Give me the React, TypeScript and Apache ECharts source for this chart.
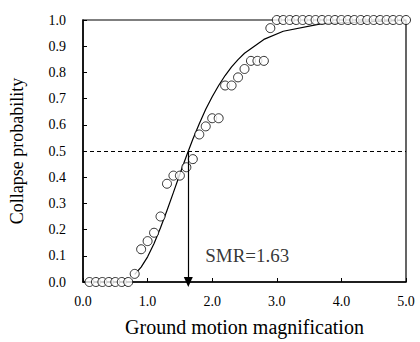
import React, { useEffect, useRef } from "react";
import * as echarts from "echarts";

// Observed collapse probabilities
const obsX = [
  0.1, 0.2, 0.3, 0.4, 0.5, 0.6, 0.7, 0.8, 0.9, 1.0,
  1.1, 1.2, 1.3, 1.4, 1.5, 1.6, 1.7, 1.8, 1.9, 2.0,
  2.1, 2.2, 2.3, 2.4, 2.5, 2.6, 2.7, 2.8, 2.9, 3.0,
  3.1, 3.2, 3.3, 3.4, 3.5, 3.6, 3.7, 3.8, 3.9, 4.0,
  4.1, 4.2, 4.3, 4.4, 4.5, 4.6, 4.7, 4.8, 4.9, 5.0,
];
const obsY = [
  0, 0, 0, 0, 0, 0, 0, 0.031, 0.125, 0.156,
  0.188, 0.25, 0.375, 0.406, 0.406, 0.438, 0.469, 0.563, 0.594, 0.625,
  0.625, 0.75, 0.75, 0.781, 0.813, 0.844, 0.844, 0.844, 0.969, 1,
  1, 1, 1, 1, 1, 1, 1, 1, 1, 1,
  1, 1, 1, 1, 1, 1, 1, 1, 1, 1,
];

// Fitted fragility curve
const fitX = [0.8, 0.9, 1.0, 1.1, 1.2, 1.3, 1.4, 1.5, 1.6, 1.7, 1.8, 1.9, 2.0, 2.1, 2.2, 2.3, 2.4, 2.5, 2.8, 3.1, 3.7, 5.0];
const fitY = [0.029, 0.057, 0.096, 0.147, 0.207, 0.273, 0.342, 0.412, 0.48, 0.545, 0.604, 0.659, 0.707, 0.75, 0.788, 0.821, 0.849, 0.873, 0.926, 0.957, 0.986, 0.999];

const smr = 1.63;
const threshold = 0.5;
const xTicks = [0, 1, 2, 3, 4, 5];

const FONT = "'Liberation Serif', 'Times New Roman', serif";

export default function App() {
  const ref = useRef<HTMLDivElement>(null);
  useEffect(() => {
    if (!ref.current) return;
    const chart = echarts.init(ref.current, null, { renderer: "svg" });
    chart.setOption({
      animation: false,
      textStyle: { fontFamily: FONT, color: "#000" },
      grid: {
        left: 81,
        right: 14,
        top: 20,
        bottom: 60,
        show: true,
        borderColor: "#000",
        borderWidth: 1.2,
        backgroundColor: "transparent",
      },
      xAxis: {
        type: "value",
        min: xTicks[0],
        max: xTicks[xTicks.length - 1],
        interval: 1,
        name: "Ground motion magnification",
        nameLocation: "middle",
        nameGap: 35,
        nameTextStyle: { fontFamily: FONT, fontSize: 20, color: "#000" },
        axisLine: { show: true, lineStyle: { color: "#000", width: 1.5 } },
        axisTick: { show: true, inside: true, length: 4, lineStyle: { color: "#000" } },
        axisLabel: {
          fontFamily: FONT,
          fontSize: 14,
          color: "#000",
          margin: 12,
          formatter: (v: number) => v.toFixed(1),
        },
        splitLine: { show: false },
      },
      yAxis: {
        type: "value",
        min: 0,
        max: 1,
        interval: 0.1,
        name: "Collapse probability",
        nameLocation: "middle",
        nameGap: 57,
        nameTextStyle: { fontFamily: FONT, fontSize: 18, color: "#000" },
        axisLine: { show: true, lineStyle: { color: "#000", width: 1.5 } },
        axisTick: { show: true, inside: true, length: 4, lineStyle: { color: "#000" } },
        axisLabel: {
          fontFamily: FONT,
          fontSize: 14,
          color: "#000",
          margin: 17,
          formatter: (v: number) => v.toFixed(1),
        },
        splitLine: { show: false },
      },
      series: [
        {
          type: "line",
          data: fitX.map((x, i) => [x, fitY[i]]),
          showSymbol: false,
          symbol: "none",
          lineStyle: { color: "#000", width: 1.2 },
          z: 2,
          markLine: {
            silent: true,
            animation: false,
            label: { show: false },
            data: [
              [
                { coord: [smr, threshold], symbol: "none" },
                { coord: [smr, 0], symbol: "triangle", symbolSize: [9, 10], symbolRotate: 180 },
              ],
            ],
            lineStyle: { color: "#000", width: 1.2, type: "solid" },
          },
        },
        {
          type: "line",
          data: [],
          markLine: {
            silent: true,
            symbol: "none",
            label: { show: false },
            lineStyle: { color: "#000", width: 1, type: [4, 3] },
            data: [[{ coord: [xTicks[0], threshold] }, { coord: [xTicks[xTicks.length - 1], threshold] }]],
          },
        },
        {
          type: "scatter",
          data: obsX.map((x, i) => [x, obsY[i]]),
          symbol: "circle",
          symbolSize: 9,
          itemStyle: { color: "#fff", borderColor: "#000", borderWidth: 1 },
          z: 3,
        },
        {
          type: "scatter",
          data: [[1.83, 0.1]],
          symbolSize: 0,
          silent: true,
          label: {
            show: true,
            position: "right",
            distance: 4,
            formatter: "SMR=" + smr.toFixed(2),
            fontFamily: FONT,
            fontSize: 19,
            color: "#000",
          },
          z: 4,
        },
      ],
    });
    return () => chart.dispose();
  }, []);
  return (
    <div
      ref={ref}
      style={{ position: "fixed", left: 0, top: 0, width: 420, height: 342, background: "#fff" }}
    />
  );
}
